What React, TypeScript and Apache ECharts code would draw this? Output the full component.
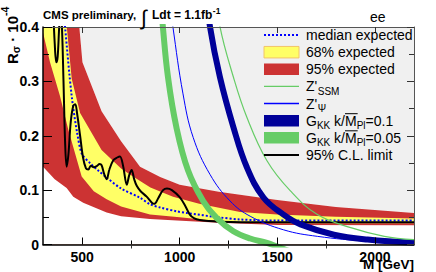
import React, { useEffect, useRef } from "react";
import * as echarts from "echarts";

// ---- data (mass in GeV, R_sigma in units of 1e-4) ----
const massLabelTicks = [500, 1000, 1500, 2000];
const massMinorTicks = [750, 1250, 1750];
const yTickLabels = ["0", "0.1", "0.2", "0.3", "0.4"];

const upper95 = [[300, 2.0], [450, 0.6], [486, 0.4], [502, 0.335], [600, 0.245], [700, 0.19], [797, 0.143], [900, 0.124], [1000, 0.11], [1200, 0.097], [1500, 0.082], [1800, 0.069], [2200, 0.058]];
const upper68 = [[300, 0.8], [360, 0.55], [423, 0.396], [447, 0.305], [490, 0.242], [600, 0.174], [700, 0.14], [761, 0.125], [850, 0.105], [966, 0.088], [1100, 0.075], [1309, 0.06], [1500, 0.055], [1800, 0.051], [2200, 0.048]];
const lower68 = [[300, 0.39], [336, 0.335], [387, 0.273], [429, 0.212], [498, 0.125], [560, 0.098], [626, 0.083], [700, 0.07], [848, 0.055], [1000, 0.05], [1138, 0.045], [1300, 0.042], [1500, 0.039], [2200, 0.039]];
const lower95 = [[300, 0.143], [360, 0.12], [421, 0.104], [455, 0.088], [506, 0.077], [626, 0.059], [700, 0.052], [848, 0.047], [985, 0.044], [1200, 0.04], [1500, 0.036], [2200, 0.0355]];
const medianExpected = [[300, 1.1], [360, 0.62], [413, 0.4], [447, 0.273], [475, 0.205], [500, 0.166], [540, 0.15], [580, 0.137], [626, 0.123], [700, 0.103], [797, 0.086], [848, 0.074], [900, 0.068], [985, 0.061], [1036, 0.058], [1200, 0.05], [1309, 0.046], [1500, 0.044], [2200, 0.044]];
const observed = [[300, 0.9], [330, 0.62], [350, 0.45], [360, 0.37], [368, 0.335], [375, 0.345], [383, 0.4], [390, 0.43], [397, 0.4], [405, 0.3], [413, 0.19], [421, 0.143], [430, 0.165], [442, 0.225], [455, 0.255], [465, 0.258], [475, 0.24], [490, 0.2], [505, 0.16], [520, 0.14], [532, 0.138], [545, 0.145], [560, 0.142], [575, 0.144], [590, 0.148], [600, 0.146], [613, 0.13], [626, 0.12], [640, 0.138], [660, 0.155], [680, 0.16], [694, 0.162], [710, 0.145], [729, 0.11], [742, 0.128], [754, 0.137], [767, 0.12], [780, 0.108], [800, 0.098], [831, 0.088], [860, 0.076], [871, 0.075], [890, 0.085], [915, 0.1], [935, 0.103], [960, 0.1], [1000, 0.087], [1030, 0.07], [1052, 0.055], [1075, 0.048], [1103, 0.045], [1150, 0.043], [1200, 0.042], [1400, 0.041], [1800, 0.041], [2200, 0.041]];
const gkk005 = [[895, 0.48], [914, 0.4], [940, 0.308], [983, 0.216], [1043, 0.136], [1120, 0.08], [1189, 0.049], [1275, 0.0244], [1361, 0.011], [1447, 0.003], [1500, -0.004], [1560, -0.012]];
const zpsi = [[940, 0.47], [965, 0.401], [1017, 0.277], [1069, 0.197], [1155, 0.129], [1258, 0.08], [1361, 0.052], [1532, 0.027], [1705, 0.015], [1962, 0.006], [2200, 0.002]];
const gkk01 = [[1130, 0.48], [1155, 0.401], [1206, 0.308], [1275, 0.216], [1344, 0.142], [1430, 0.086], [1532, 0.055], [1619, 0.037], [1790, 0.018], [1962, 0.009], [2200, 0.003]];
const zssm = [[1180, 0.48], [1206, 0.401], [1275, 0.308], [1344, 0.234], [1447, 0.154], [1567, 0.0985], [1705, 0.055], [1876, 0.031], [2048, 0.015], [2200, 0.009]];

const FONT = '"Liberation Sans", Arial, Helvetica, sans-serif';
const RED = "#cc3333";
const YELLOW = "#ffff66";
const GREEN = "#66cc66";
const DARKBLUE = "#000099";
const BLUE = "#0000ff";

let measureCtx: CanvasRenderingContext2D | null = null;
function textWidth(t: string, font: string): number {
  if (!measureCtx) measureCtx = document.createElement("canvas").getContext("2d");
  if (!measureCtx) return t.length * 7;
  measureCtx.font = font;
  return measureCtx.measureText(t).width;
}

function txt(text: string, x: number, y: number, size: number, opts: any = {}) {
  const weight = opts.weight || "normal";
  const align = opts.align || "left";
  return {
    type: "text",
    x,
    y,
    z: 100,
    silent: true,
    style: {
      text,
      font: `${weight} ${size}px ${FONT}`,
      fill: opts.fill || "#000",
      align,
      verticalAlign: "middle",
      textAlign: align,
      textVerticalAlign: "middle",
    },
  };
}

function buildLegend(): any[] {
  const els: any[] = [];
  const x0 = 264;
  const x1 = 299;
  const tx = 306;
  const rows = [35, 52.2, 69.3, 86.4, 103.5, 120.7, 137.8, 155];
  const main = `normal 14px ${FONT}`;
  const sub = `normal 10px ${FONT}`;
  const line = (y: number, color: string, w: number, dash?: number[]) => ({
    type: "line", z: 100, silent: true,
    shape: { x1: x0, y1: y, x2: x1, y2: y },
    style: { stroke: color, lineWidth: w, lineDash: dash || null },
  });
  const box = (y: number, color: string, stroke?: string) => ({
    type: "rect", z: 100, silent: true,
    shape: { x: x0, y: y - 5.75, width: x1 - x0, height: 11.5 },
    style: { fill: color, stroke: stroke || null, lineWidth: 1 },
  });
  els.push(line(rows[0], BLUE, 2, [2, 2]));
  els.push(txt("median expected", tx, rows[0], 14));
  els.push(box(rows[1], YELLOW, "#f2c46a"));
  els.push(txt("68% expected", tx, rows[1], 14));
  els.push(box(rows[2], RED));
  els.push(txt("95% expected", tx, rows[2], 14));
  // Z'_SSM
  els.push(line(rows[3], GREEN, 1.3));
  els.push(txt("Z'", tx, rows[3], 14));
  els.push(txt("SSM", tx + textWidth("Z'", main) + 0.5, rows[3] + 5, 10));
  // Z'_Psi
  els.push(line(rows[4], BLUE, 1.3));
  els.push(txt("Z'", tx, rows[4], 14));
  els.push(txt("Ψ", tx + textWidth("Z'", main) + 0.5, rows[4] + 4.5, 10));
  // G_KK
  const gkk = (y: number, val: string) => {
    let cx = tx;
    els.push(txt("G", cx, y, 14));
    cx += textWidth("G", main);
    els.push(txt("KK", cx, y + 5, 10));
    cx += textWidth("KK", sub);
    els.push(txt(" k/", cx, y, 14));
    cx += textWidth(" k/", main);
    const mw = textWidth("M", main);
    els.push(txt("M", cx, y, 14));
    els.push({
      type: "line", z: 100, silent: true,
      shape: { x1: cx, y1: y - 7, x2: cx + mw + 1, y2: y - 7 },
      style: { stroke: "#000", lineWidth: 1 },
    });
    cx += mw;
    els.push(txt("Pl", cx, y + 5, 10));
    cx += textWidth("Pl", sub);
    els.push(txt(val, cx, y, 14));
  };
  els.push(box(rows[5], DARKBLUE));
  gkk(rows[5], "=0.1");
  els.push(box(rows[6], GREEN));
  gkk(rows[6], "=0.05");
  els.push(line(rows[7], "#000", 2));
  els.push(txt("95% C.L. limit", tx, rows[7], 14));
  return els;
}

function buildTitles(): any[] {
  const els: any[] = [];
  const b12 = `bold 12px ${FONT}`;
  els.push(txt("CMS preliminary,", 43, 14.5, 11.5, { weight: "bold" }));
  els.push(txt("∫", 141, 17, 21));
  els.push(txt("Ldt = 1.1fb", 152, 15, 12, { weight: "bold" }));
  els.push(txt("-1", 152 + textWidth("Ldt = 1.1fb", b12) + 0.5, 10.5, 8.5, { weight: "bold" }));
  els.push(txt("ee", 370, 17, 14));
  els.push(txt("M [GeV]", 414, 264.5, 13.5, { weight: "bold", align: "right" }));

  // rotated y-axis title: R_sigma . 10^-4
  const b15 = `bold 15px ${FONT}`;
  const b10 = `bold 10.5px ${FONT}`;
  const children: any[] = [];
  let cx = 0;
  children.push(txt("R", cx, -5.5, 15, { weight: "bold" }));
  cx += textWidth("R", b15);
  children.push(txt("σ", cx, -1.5, 10.5, { weight: "bold" }));
  cx += textWidth("σ", b10);
  children.push(txt(" · ", cx, -5.5, 15, { weight: "bold" }));
  cx += textWidth(" · ", b15);
  children.push(txt("10", cx, -5.5, 15, { weight: "bold" }));
  cx += textWidth("10", b15);
  children.push(txt("-4", cx, -12.5, 10.5, { weight: "bold" }));
  els.push({ type: "group", x: 17.5, y: 64, rotation: Math.PI / 2, z: 100, children });
  return els;
}

export default function App() {
  const ref = useRef<HTMLDivElement>(null);
  useEffect(() => {
    if (!ref.current) return;
    const chart = echarts.init(ref.current, null, { renderer: "svg" });
    const xBase: any = {
      type: "value", min: 300, max: 2200, splitLine: { show: false }, z: 10,
    };
    const yBase: any = {
      type: "value", min: 0, max: 0.4, interval: 0.1, splitLine: { show: false }, z: 10,
    };
    const lineBase: any = { type: "line", symbol: "none", silent: true, xAxisIndex: 0, yAxisIndex: 0 };
    const band = (name: string, data: number[][], color: string, origin: string) => ({
      ...lineBase, name, data, lineStyle: { width: 0 },
      areaStyle: { color, origin, opacity: 1 },
    });
    chart.setOption({
      animation: false,
      backgroundColor: "#ffffff",
      grid: { left: 43, right: 22, top: 27, bottom: 27.5, containLabel: false, outerBoundsMode: "none" },
      xAxis: [
        {
          ...xBase, position: "bottom",
          axisLine: { show: true, onZero: false, lineStyle: { color: "#000", width: 1.5 } },
          axisTick: { show: true, inside: true, length: 7, customValues: massLabelTicks, lineStyle: { color: "#000" } },
          axisLabel: {
            show: true, customValues: massLabelTicks, margin: 5, color: "#000",
            fontSize: 14, fontWeight: "bold", fontFamily: FONT,
            formatter: (v: number) => String(v),
          },
        },
        {
          ...xBase, position: "bottom", offset: 0,
          axisLine: { show: false },
          axisTick: { show: true, inside: true, length: 4, customValues: massMinorTicks, lineStyle: { color: "#000" } },
          axisLabel: { show: false },
        },
        {
          ...xBase, position: "top",
          axisLine: { show: true, onZero: false, lineStyle: { color: "#555", width: 1 } },
          axisTick: { show: true, inside: true, length: 6, customValues: massLabelTicks, lineStyle: { color: "#333" } },
          axisLabel: { show: false },
        },
        {
          ...xBase, position: "top", offset: 0,
          axisLine: { show: false },
          axisTick: { show: true, inside: true, length: 4, customValues: massMinorTicks, lineStyle: { color: "#333" } },
          axisLabel: { show: false },
        },
      ],
      yAxis: [
        {
          ...yBase, position: "left",
          axisLine: { show: true, onZero: false, lineStyle: { color: "#000", width: 1.5 } },
          axisTick: { show: true, inside: true, length: 9, lineStyle: { color: "#000" } },
          minorTick: { show: true, splitNumber: 2, length: 6, lineStyle: { color: "#000" } },
          minorSplitLine: { show: false },
          axisLabel: {
            show: true, margin: 4, color: "#000", fontSize: 14, fontWeight: "bold", fontFamily: FONT,
            formatter: (v: number) => yTickLabels[Math.round(v * 10)] ?? String(v),
          },
        },
        {
          ...yBase, position: "right",
          axisLine: { show: true, onZero: false, lineStyle: { color: "#555", width: 1 } },
          axisTick: { show: true, inside: true, length: 7, lineStyle: { color: "#333" } },
          minorTick: { show: true, splitNumber: 2, length: 5, lineStyle: { color: "#333" } },
          minorSplitLine: { show: false },
          axisLabel: { show: false },
        },
      ],
      series: [
        band("excluded background", upper95, "#f0f0f0", "end"),
        band("95% expected upper", upper95, RED, "start"),
        band("68% expected", upper68, YELLOW, "start"),
        band("95% expected lower", lower68, RED, "start"),
        band("below band", lower95, "#ffffff", "start"),
        {
          ...lineBase, name: "median expected", data: medianExpected, smooth: 0.3,
          lineStyle: { color: BLUE, width: 2, type: [2, 2], cap: "butt" },
        },
        {
          ...lineBase, name: "95% C.L. limit", data: observed, smooth: 0.35,
          lineStyle: { color: "#000", width: 2 },
        },
        {
          ...lineBase, name: "GKK k/MPl=0.05", data: gkk005, smooth: 0.4,
          lineStyle: { color: GREEN, width: 6 },
        },
        {
          ...lineBase, name: "Z'psi", data: zpsi, smooth: 0.4,
          lineStyle: { color: BLUE, width: 1 },
        },
        {
          ...lineBase, name: "GKK k/MPl=0.1", data: gkk01, smooth: 0.4,
          lineStyle: { color: DARKBLUE, width: 6 },
        },
        {
          ...lineBase, name: "Z'SSM", data: zssm, smooth: 0.4,
          lineStyle: { color: GREEN, width: 1.2 },
        },
      ],
      graphic: [...buildTitles(), ...buildLegend()],
    });
    return () => chart.dispose();
  }, []);
  return (
    <div
      ref={ref}
      style={{ position: "absolute", left: 0, top: 0, width: 436, height: 272, background: "#fff" }}
    />
  );
}
